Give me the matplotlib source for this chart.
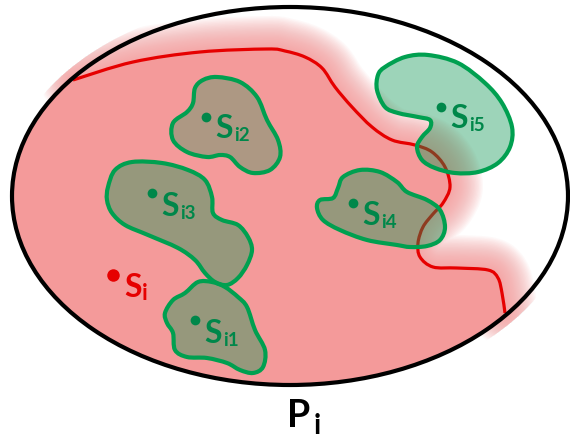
import matplotlib
matplotlib.use("Agg")
import matplotlib.pyplot as plt
import numpy as np
from matplotlib.path import Path
from matplotlib.patches import PathPatch, Ellipse

# ---- shape data (pixel coords, y down) ----
boundary_center = (290, 196)
boundary_size = (556, 378)

red_curve = [(73, 80), (133, 62), (200, 52), (267, 49), (285, 51), (305, 57), (322, 68),
             (335, 87), (352, 107), (372, 127), (392, 140), (415, 145), (432, 152),
             (445, 167), (450, 187), (443, 203), (433, 214), (423, 227), (418, 243),
             (420, 257), (433, 267), (457, 268), (488, 270), (498, 278), (502, 293),
             (505, 313)]

blob_names = ["i1", "i2", "i3", "i4", "i5"]
blobs = {
    "i1": [(198, 282), (212, 282), (225, 287), (238, 297), (247, 307), (255, 330), (265, 350),
           (263, 367), (253, 373), (240, 370), (227, 363), (207, 358), (187, 357), (175, 350),
           (173, 333), (167, 323), (165, 313), (173, 300), (185, 293)],
    "i2": [(217, 77), (240, 82), (257, 97), (267, 120), (278, 140), (280, 157), (270, 170),
           (253, 173), (240, 167), (230, 157), (220, 155), (207, 157), (187, 152), (173, 140),
           (173, 123), (187, 112), (193, 103), (195, 88), (203, 80)],
    "i3": [(115, 170), (132, 162), (162, 163), (188, 170), (205, 180), (212, 197), (213, 213),
           (222, 220), (238, 225), (248, 237), (252, 250), (247, 265), (238, 278), (227, 285),
           (215, 282), (205, 273), (195, 260), (178, 248), (148, 235), (125, 225), (112, 213),
           (107, 200), (108, 187)],
    "i4": [(320, 200), (333, 198), (338, 188), (343, 177), (360, 170), (380, 172), (397, 182),
           (407, 192), (427, 200), (440, 210), (445, 227), (440, 240), (427, 246), (410, 247),
           (397, 245), (367, 240), (340, 230), (323, 220), (317, 208)],
    "i5": [(385, 67), (405, 57), (428, 55), (458, 63), (485, 83), (502, 103), (512, 127),
           (510, 147), (498, 163), (478, 172), (455, 173), (435, 168), (422, 160), (417, 147),
           (422, 137), (430, 128), (430, 120), (418, 117), (398, 113), (385, 107), (377, 90),
           (378, 75)],
}
blob_alpha = {"i1": 0.4, "i2": 0.3, "i3": 0.4, "i4": 0.4, "i5": 0.4}
dots = {"i1": (195, 320), "i2": (206, 117), "i3": (152, 193), "i4": (353, 203), "i5": (441, 107)}
label_pos = {"i1": (204, 343), "i2": (215, 138), "i3": (161, 216), "i4": (362, 225), "i5": (450, 128)}
si_dot = (113, 275)
si_label = (124, 297)

PINK = "#f49a9a"
RED = "#e60000"
GREEN_EDGE = "#00a050"
GREEN_FILL = "#0a9551"
GREEN_TEXT = "#00874a"
FONT = "Lato"


def smooth_path(pts, closed=False):
    """Catmull-Rom through the points, as cubic bezier path."""
    p = np.array(pts, dtype=float)
    n = len(p)
    verts = [p[0]]
    codes = [Path.MOVETO]
    segs = n if closed else n - 1
    for i in range(segs):
        if closed:
            p0, p1, p2, p3 = p[(i - 1) % n], p[i], p[(i + 1) % n], p[(i + 2) % n]
        else:
            p0 = p[max(i - 1, 0)]
            p1, p2 = p[i], p[i + 1]
            p3 = p[min(i + 2, n - 1)]
        c1 = p1 + (p2 - p0) / 6
        c2 = p2 - (p3 - p1) / 6
        verts += [c1, c2, p2]
        codes += [Path.CURVE4] * 3
    if closed:
        verts.append(p[0])
        codes.append(Path.CLOSEPOLY)
    return Path(verts, codes)


fig = plt.figure(figsize=(5.7, 4.4), dpi=100)
ax = fig.add_axes([0, 0, 1, 1])
ax.set_xlim(0, 570)
ax.set_ylim(440, 0)
ax.axis('off')

# soft glow along the red boundary, allowed to spill a little past the ellipse
curve = smooth_path(red_curve)
glow_clip = Ellipse(boundary_center, boundary_size[0] + 18, boundary_size[1] + 18,
                    transform=ax.transData)
for w in np.linspace(66, 4, 24):
    g = PathPatch(curve, fill=False, edgecolor=PINK, lw=w * 0.72,
                  alpha=0.065, capstyle='round', joinstyle='round')
    ax.add_patch(g)
    g.set_clip_path(glow_clip)

# red region: inside ellipse, below/left of the curve
ell_clip = Ellipse(boundary_center, *boundary_size, transform=ax.transData)
region_pts = [(-20, 70)] + red_curve + [(520, 330), (560, 460), (-20, 460)]
region = PathPatch(Path(region_pts + [region_pts[0]], closed=True),
                   facecolor=PINK, edgecolor='none')
ax.add_patch(region)
region.set_clip_path(ell_clip)

ax.add_patch(PathPatch(curve, fill=False, edgecolor=RED, lw=2.3))

# blobs
for name in blob_names:
    bp = smooth_path(blobs[name], closed=True)
    ax.add_patch(PathPatch(bp, facecolor=GREEN_FILL, alpha=blob_alpha[name], edgecolor='none'))
    ax.add_patch(PathPatch(bp, fill=False, edgecolor=GREEN_EDGE, lw=3.0))
    ax.plot(*dots[name], 'o', color=GREEN_TEXT, ms=7, mec='none')
    lx, ly = label_pos[name]
    ax.text(lx, ly, "S", color=GREEN_TEXT, fontsize=23, family=FONT, fontweight='bold',
            ha='left', va='baseline')
    ax.text(lx + 19, ly + 3, name, color=GREEN_TEXT, fontsize=13.5, family=FONT,
            fontweight='bold', ha='left', va='baseline')

# s_i
ax.plot(*si_dot, 'o', color=RED, ms=9, mec='none')
ax.text(si_label[0], si_label[1], "S", color=RED, fontsize=23, family=FONT,
        fontweight='bold', ha='left', va='baseline')
ax.text(si_label[0] + 18, si_label[1] + 3, "i", color=RED, fontsize=16, family=FONT,
        fontweight='bold', ha='left', va='baseline')

# outer boundary P_i
ax.add_patch(Ellipse(boundary_center, *boundary_size, fill=False, edgecolor='black', lw=3.0))
ax.text(287, 427, "P", color='black', fontsize=27, family=FONT, fontweight='bold',
        ha='left', va='baseline')
ax.text(314, 434, "i", color='black', fontsize=20, family=FONT, fontweight='bold',
        ha='left', va='baseline')

fig.savefig("out.png", dpi=100)
